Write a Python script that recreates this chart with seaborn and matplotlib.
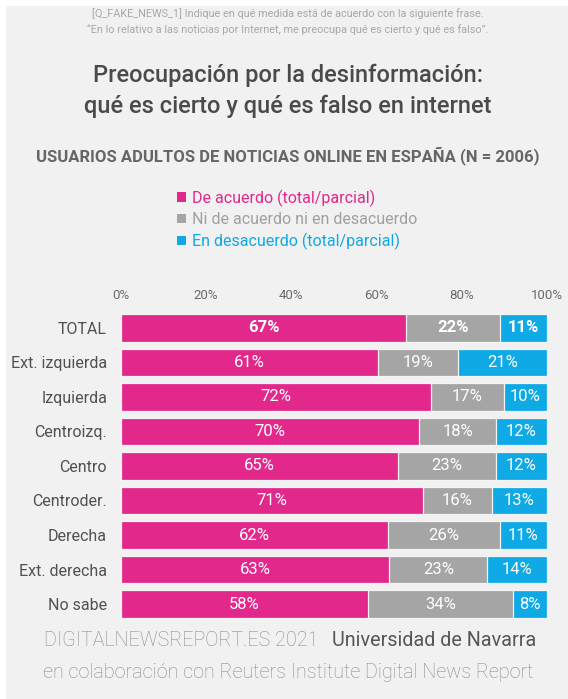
import numpy as np
import pandas as pd
import matplotlib
matplotlib.use('Agg')
import matplotlib.pyplot as plt
from matplotlib.patches import Patch, Rectangle
import seaborn as sns

# Data
categories = ["TOTAL", "Ext. izquierda", "Izquierda", "Centroizq.", "Centro",
              "Centroder.", "Derecha", "Ext. derecha", "No sabe"]
acuerdo = [67, 61, 72, 70, 65, 71, 62, 63, 58]
neutral = [22, 19, 17, 18, 23, 16, 26, 23, 34]
desacuerdo = [11, 21, 10, 12, 12, 13, 11, 14, 8]
series_names = ["De acuerdo (total/parcial)", "Ni de acuerdo ni en desacuerdo",
                "En desacuerdo (total/parcial)"]
tick_values = [0, 20, 40, 60, 80, 100]

PINK = "#e2288b"
GRAY = "#a5a5a5"
BLUE = "#0fa9e6"
BG = "#f1f1f1"

sns.set_style("white")
plt.rcParams['font.family'] = ['Roboto', 'DejaVu Sans']

df = pd.DataFrame({"cat": categories, "a": acuerdo, "n": neutral, "d": desacuerdo})
# rounded shares don't always add to 100, so scale each row to a full bar
tot = df["a"] + df["n"] + df["d"]
df["c1"] = df["a"] / tot * 100
df["c2"] = (df["a"] + df["n"]) / tot * 100
df["c3"] = 100.0

fig = plt.figure(figsize=(5.68, 6.99), dpi=100)
fig.patch.set_facecolor("white")
fig.patches.append(Rectangle((6 / 568, 0), 1, 1 - 6 / 699, transform=fig.transFigure,
                             facecolor=BG, edgecolor="none", zorder=-10))

ax = fig.add_axes([121 / 568, 0.1112, 426 / 568, 0.4443])
ax.patch.set_alpha(0)

# stacked bars: draw cumulative totals back to front
for col, c in [("c3", BLUE), ("c2", GRAY), ("c1", PINK)]:
    sns.barplot(data=df, x=col, y="cat", color=c, orient="h", width=0.8,
                saturation=1, ax=ax, edgecolor="#f4f4f4", linewidth=0.9)

ax.set_xlim(0, 100)
ax.set_ylim(len(categories) - 0.5, -0.5)
ax.set_xlabel("")
ax.set_ylabel("")
sns.despine(ax=ax, left=True, bottom=True)
ax.xaxis.tick_top()
ax.set_xticks(tick_values)
ax.set_xticklabels([f"{t}%" for t in tick_values])
ax.tick_params(axis="x", length=0, pad=6, labelsize=9.5, labelcolor="#6a6a6a")
ax.tick_params(axis="y", length=0, pad=10, labelsize=11.5, labelcolor="#505050")

for i, row in df.iterrows():
    w = "bold" if i == 0 else "normal"
    mids = [row["c1"] / 2, (row["c1"] + row["c2"]) / 2, (row["c2"] + row["c3"]) / 2]
    for m, v in zip(mids, [row["a"], row["n"], row["d"]]):
        ax.text(m, i, f"{v}%", ha="center", va="center", color="white",
                fontsize=12, fontweight=w)

# legend
handles = [Patch(facecolor=c, edgecolor="none") for c in (PINK, GRAY, BLUE)]
fig.legend(handles, series_names, loc="upper left", bbox_to_anchor=(163 / 568, 1 - 175 / 699),
           frameon=False, handlelength=0.55, handleheight=0.55, handletextpad=0.35,
           labelspacing=0.35, fontsize=11.5, labelcolor=[PINK, "#a0a0a0", BLUE])

cx = 0.507
fig.text(cx, 1 - 14 / 699, "[Q_FAKE_NEWS_1] Indique en qué medida está de acuerdo con la siguiente frase.",
         ha="center", va="center", fontsize=7.8, color="#a8a8a8")
fig.text(cx, 1 - 30 / 699, "\u201cEn lo relativo a las noticias por Internet, me preocupa qué es cierto y qué es falso\u201d.",
         ha="center", va="center", fontsize=7.8, color="#a8a8a8")
fig.text(cx, 1 - 75 / 699, "Preocupación por la desinformación:", ha="center", va="center",
         fontsize=17, fontweight="medium", color="#4a4a4a")
fig.text(cx, 1 - 106 / 699, "qué es cierto y qué es falso en internet", ha="center", va="center",
         fontsize=17, fontweight="medium", color="#4a4a4a")
fig.text(cx, 1 - 156 / 699, "USUARIOS ADULTOS DE NOTICIAS ONLINE EN ESPAÑA (N = 2006)",
         ha="center", va="center", fontsize=12, fontweight="bold", color="#666666")

fig.text(319 / 568, 1 - 641 / 699, "DIGITALNEWSREPORT.ES 2021", ha="right", va="center",
         fontsize=14.2, fontweight="light", color="#8a8a8a")
fig.text(332 / 568, 1 - 641 / 699, "Universidad de Navarra", ha="left", va="center",
         fontsize=14.2, color="#555555")
fig.text(cx, 1 - 673 / 699, "en colaboración con Reuters Institute Digital News Report",
         ha="center", va="center", fontsize=14.2, fontweight="light", color="#8a8a8a")

fig.savefig("out.png", dpi=100, facecolor=fig.get_facecolor())
